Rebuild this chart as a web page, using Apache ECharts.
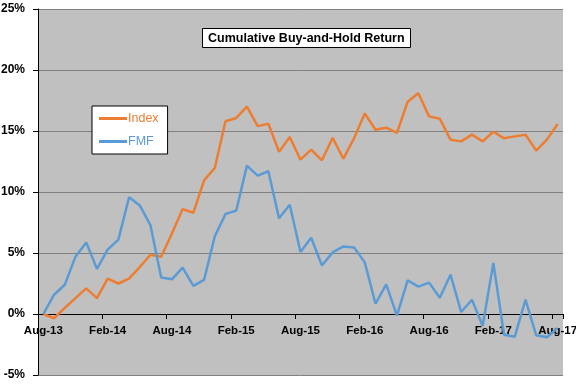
<!DOCTYPE html>
<html>
<head>
<meta charset="utf-8">
<script src="https://cdn.jsdelivr.net/npm/echarts@6/dist/echarts.min.js"></script>
<style>html,body{margin:0;padding:0;background:#fff}#c{width:576px;height:384px}</style>
</head>
<body>
<div id="c"></div>
<script>
const months = [
 'Aug-13','Sep-13','Oct-13','Nov-13','Dec-13','Jan-14','Feb-14','Mar-14','Apr-14','May-14','Jun-14','Jul-14',
 'Aug-14','Sep-14','Oct-14','Nov-14','Dec-14','Jan-15','Feb-15','Mar-15','Apr-15','May-15','Jun-15','Jul-15',
 'Aug-15','Sep-15','Oct-15','Nov-15','Dec-15','Jan-16','Feb-16','Mar-16','Apr-16','May-16','Jun-16','Jul-16',
 'Aug-16','Sep-16','Oct-16','Nov-16','Dec-16','Jan-17','Feb-17','Mar-17','Apr-17','May-17','Jun-17','Jul-17',
 'Aug-17'
];
const indexReturn = [
 0.0, -0.35, 0.5, 1.3, 2.1, 1.3, 2.9, 2.5, 2.9, 3.85, 4.86, 4.7,
 6.6, 8.6, 8.3, 10.95, 11.97, 15.8, 16.07, 17.0, 15.4, 15.6, 13.3, 14.5,
 12.65, 13.47, 12.6, 14.45, 12.73, 14.4, 16.44, 15.1, 15.27, 14.84, 17.4, 18.1,
 16.2, 16.0, 14.29, 14.15, 14.7, 14.15, 14.94, 14.4, 14.56, 14.7, 13.4, 14.29,
 15.57
];
const fmfReturn = [
 0.0, 1.58, 2.4, 4.7, 5.87, 3.7, 5.27, 6.1, 9.56, 8.9, 7.26, 3.0,
 2.84, 3.8, 2.3, 2.8, 6.36, 8.2, 8.47, 12.16, 11.34, 11.7, 7.84, 8.96,
 5.08, 6.25, 3.98, 5.05, 5.54, 5.46, 4.23, 0.84, 2.43, -0.14, 2.76, 2.24,
 2.57, 1.33, 3.22, 0.16, 1.17, -0.96, 4.18, -1.7, -1.86, 1.17, -1.75, -1.9,
 -1.15
];
const yTicks = { min: -5, max: 25, interval: 5 };

const font = 'Liberation Sans, Arial, sans-serif';
const gridTop = 9, gridBottom = 9, chartH = 384;
// place the category axis at the 0% level
const zeroOffset = -((0 - yTicks.min) / (yTicks.max - yTicks.min)) * (chartH - gridTop - gridBottom);

const chart = echarts.init(document.getElementById('c'), null, { renderer: 'canvas' });
chart.setOption({
  animation: false,
  backgroundColor: '#ffffff',
  title: {
    text: 'Cumulative Buy-and-Hold Return',
    left: 202, top: 28,
    padding: [4, 6, 3, 6],
    backgroundColor: '#ffffff',
    borderColor: '#000000',
    borderWidth: 1,
    textStyle: { fontFamily: font, fontSize: 12.5, fontWeight: 'bold', color: '#000' }
  },
  legend: {
    orient: 'vertical',
    left: 92, top: 106,
    padding: [6, 9, 6, 7],
    itemGap: 10,
    itemWidth: 28, itemHeight: 3,
    icon: 'rect',
    backgroundColor: '#ffffff',
    borderColor: '#000000',
    borderWidth: 1,
    textStyle: { fontFamily: font, fontSize: 12.5, padding: [0, 0, 0, -4] },
    data: [
      { name: 'Index', textStyle: { color: '#ED7D31' } },
      { name: 'FMF', textStyle: { color: '#5B9BD5' } }
    ]
  },
  grid: {
    left: 38, right: 13, top: gridTop, bottom: gridBottom,
    containLabel: false,
    outerBoundsMode: 'none',
    show: true, backgroundColor: '#C0C0C0', borderWidth: 0
  },
  xAxis: {
    type: 'category',
    data: months,
    boundaryGap: true,
    position: 'bottom',
    offset: zeroOffset,
    axisLine: { onZero: false, lineStyle: { color: '#000', width: 1 } },
    axisTick: { show: true, interval: 5, length: 5, lineStyle: { color: '#000' } },
    axisLabel: { interval: 5, margin: 11, fontFamily: font, fontSize: 11.5, fontWeight: 'bold', color: '#000' },
    splitLine: { show: false }
  },
  yAxis: {
    type: 'value',
    min: yTicks.min, max: yTicks.max, interval: yTicks.interval,
    axisLine: { show: true, onZero: false, lineStyle: { color: '#000', width: 1 } },
    axisTick: { show: true, length: 5, lineStyle: { color: '#000' } },
    axisLabel: { formatter: '{value}%', margin: 13, fontFamily: font, fontSize: 12, fontWeight: 'bold', color: '#000' },
    splitLine: { show: true, lineStyle: { color: '#808080', width: 1 } }
  },
  series: [
    { name: 'Index', type: 'line', data: indexReturn, showSymbol: false, symbol: 'none',
      lineStyle: { color: '#ED7D31', width: 2.5 }, itemStyle: { color: '#ED7D31' } },
    { name: 'FMF', type: 'line', data: fmfReturn, showSymbol: false, symbol: 'none',
      lineStyle: { color: '#5B9BD5', width: 2.5 }, itemStyle: { color: '#5B9BD5' } }
  ]
});
</script>
</body>
</html>
